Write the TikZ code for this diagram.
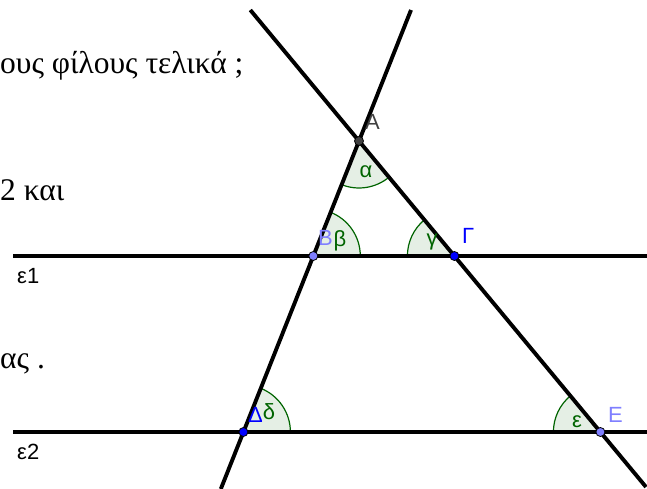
\documentclass[tikz,border=0pt]{standalone}
\usepackage{fontspec}
\setmainfont{Liberation Serif}
\newfontfamily\lblfont{Liberation Sans}
\definecolor{ptdark}{RGB}{64,64,64}
\definecolor{ptlight}{RGB}{127,127,255}
\definecolor{ptblue}{RGB}{0,0,255}
\definecolor{angc}{RGB}{0,100,0}
\usetikzlibrary{angles}

\begin{document}
\begin{tikzpicture}[x=1pt, y=-1pt,
      ln/.style={line width=3.9pt, black},
      pt/.style={circle, draw=black, line width=0.8pt, inner sep=0pt,
          minimum size=9pt},
      lbl/.style={font=\lblfont\fontsize{22}{26}\selectfont,
          inner sep=0pt, anchor=base west},
      anglbl/.style={font=\lblfont\fontsize{22}{26}\selectfont,
          text=angc, inner sep=0pt},
      ang/.style={draw=angc, fill=angc!10, line width=1.2pt,
          angle radius=47pt},
      txt/.style={font=\fontsize{31.5}{36}\selectfont, inner sep=0pt,
          anchor=base west}
    ]
    \useasboundingbox (0,0) rectangle (647,489);

    % points
    \coordinate (A) at (359,141);
    \coordinate (B) at (313.3,256);
    \coordinate (G) at (454.4,256);
    \coordinate (D) at (243.4,432);
    \coordinate (E) at (600.4,432);

    % free ends of the lines
    \coordinate (la) at (250.3,10);
    \coordinate (lb) at (646,487);
    \coordinate (ma) at (411,10);
    \coordinate (mb) at (220.8,489);
    \coordinate (pa) at (13,256);
    \coordinate (pb) at (647,256);
    \coordinate (qa) at (13,432);
    \coordinate (qb) at (647,432);

    % text of the page
    \node[txt] (t1) at (0,74)  {ους φίλους τελικά ;};
    \node[txt] (t2) at (0,200) {2 και};
    \node[txt] (t3) at (0,368) {ας .};

    % angles
    \pic[ang] {angle = B--A--G};
    \pic[ang] {angle = G--B--A};
    \pic[ang] {angle = A--G--B};
    \pic[ang] {angle = E--D--A};
    \pic[ang] {angle = A--E--D};

    \draw[ln] (pa) -- (pb);
    \draw[ln] (qa) -- (qb);
    \draw[ln] (la) -- (lb);
    \draw[ln] (ma) -- (mb);

    \node[pt, fill=ptdark]  (ptA) at (A) {};
    \node[pt, fill=ptlight] (ptB) at (B) {};
    \node[pt, fill=ptblue]  (ptG) at (G) {};
    \node[pt, fill=ptblue]  (ptD) at (D) {};
    \node[pt, fill=ptlight] (ptE) at (E) {};

    \node[lbl, text=ptdark]  (nA) at (365,130) {A};
    \node[lbl, text=ptlight] (nB) at (318,245) {B};
    \node[lbl, text=ptblue]  (nG) at (462,243) {Γ};
    \node[lbl, text=ptblue]  (nD) at (248,422) {Δ};
    \node[lbl, text=ptlight] (nE) at (608,422) {E};

    \node[anglbl] (aa) at (366,172) {α};
    \node[anglbl] (ab) at (340,241) {β};
    \node[anglbl] (ag) at (432,242) {γ};
    \node[anglbl] (ad) at (269,412) {δ};
    \node[anglbl] (ae) at (577,422) {ε};

    \node[lbl] (e1) at (17,283) {ε1};
    \node[lbl] (e2) at (17,459) {ε2};
  \end{tikzpicture}
\end{document}
